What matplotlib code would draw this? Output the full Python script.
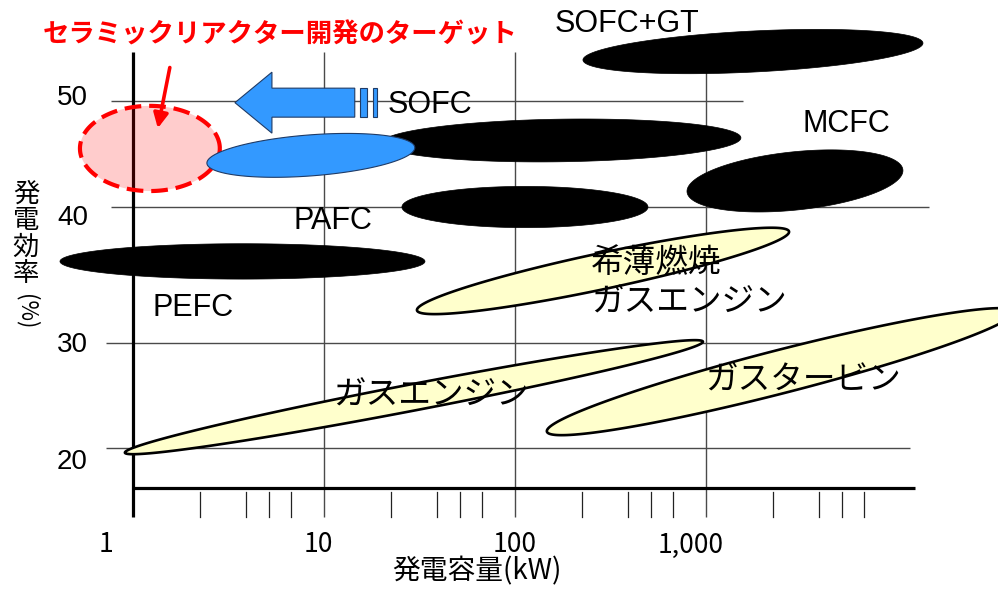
import numpy as np
import matplotlib
matplotlib.use("Agg")
import matplotlib.pyplot as plt

plt.rcParams['font.family'] = ['Liberation Sans', 'Noto Sans CJK JP', 'DejaVu Sans']

# ---------------- data ----------------
x_ticks = [1, 10, 100, 1000]
x_tick_labels = ['1', '10', '100', '1,000']
x_minor_in_decade = [2.25, 3.9, 5.15, 6.7]
y_ticks = [20, 30, 40, 50]
y_tick_labels = ['20', '30', '40', '50']

# uneven efficiency grid of the source diagram (position of each grid line, px)
grid_eff = [20, 30, 40, 50]
grid_pos = [0.0, 105.5, 241.5, 348.0]

# technology regions: capacity (kW) at both ends, efficiency (%) at both ends, spread (%)
region_names = ['PEFC', 'PAFC', 'SOFC', 'SOFC+GT', 'MCFC',
                'SOFC (small)', 'target', 'gas engine', 'lean gas engine', 'gas turbine']
kw_start = [0.415, 25.6, 20.0, 227, 796, 2.44, 0.528, 0.908, 30.7, 147]
kw_end = [33.8, 497, 1524, 13680, 10740, 29.9, 2.85, 964, 2722, 41000]
eff_start = [36.0, 40.0, 46.0, 53.8, 41.4, 44.1, 45.5, 19.6, 32.4, 21.6]
eff_end = [36.0, 40.0, 46.5, 55.4, 43.5, 45.6, 45.5, 30.1, 38.2, 32.3]
eff_spread = [2.6, 3.4, 4.0, 3.85, 5.4, 3.85, 8.0, 2.5, 2.65, 4.1]

label_text = ['SOFC+GT', 'SOFC', 'MCFC', 'PAFC', 'PEFC',
              'ガスエンジン', '希薄燃焼\nガスエンジン', 'ガスタービン']
label_kw = [386, 35.9, 5410, 11.1, 2.06, 36.3, 250, 3220]
label_eff = [57.2, 49.6, 47.8, 38.97, 32.57, 24.98, 34.4, 26.4]

title_text = 'セラミックリアクター開発のターゲット'
title_kw, title_eff = 5.89, 56.15
target_arrow_kw = [1.56, 1.35]
target_arrow_eff = [53.1, 47.4]

sofc_arrow_kw = [14.5, 3.42]     # body end -> tip
sofc_arrow_eff = 49.8

# ---------------- scale ----------------
knot_eff = [-50] + grid_eff + [120]
knot_pos = ([grid_pos[0] - 70 * (grid_pos[1] - grid_pos[0]) / 10] + grid_pos +
            [grid_pos[-1] + 70 * (grid_pos[-1] - grid_pos[-2]) / 10])


def fwd(v):
    return np.interp(np.asarray(v, float), knot_eff, knot_pos)


def inv(p):
    return np.interp(np.asarray(p, float), knot_pos, knot_eff)


W, H = 998, 589
fig = plt.figure(figsize=(W / 100, H / 100), dpi=100)
ax = fig.add_axes([0, 0, 1, 1])
ax.set_xscale('log')
ax.set_yscale('function', functions=(fwd, inv))
ax.set_xlim(0.2014, 33800)
ax.set_ylim(6.68, 59.44)
ax.axis('off')
T = ax.transData
Ti = T.inverted()

GRID_C = '#4a4a4a'

# horizontal grid lines
h_extent = {50: (0.767, 1563), 40: (0.767, 14700), 30: (0.722, 11700), 20: (0.722, 11700)}
for e in y_ticks:
    x0, x1 = h_extent[e]
    ax.plot([x0, x1], [e, e], color=GRID_C, lw=1.0, zorder=1, solid_capstyle='butt')
# vertical grid lines (decades)
for k in x_ticks[1:]:
    ax.plot([k, k], [54.55, 13.5], color=GRID_C, lw=1.0, zorder=1, solid_capstyle='butt')
# minor ticks
for dec in [1, 10, 100, 1000]:
    for m in x_minor_in_decade:
        ax.plot([dec * m, dec * m], [15.9, 13.5], color='#222222', lw=0.9, zorder=1)
# thick axes
ax.plot([1, 1], [54.55, 13.5], color='black', lw=2.3, zorder=1.5, solid_capstyle='butt')
ax.plot([1, 12400], [16.26, 16.26], color='black', lw=2.3, zorder=1.5, solid_capstyle='butt')


def region(i, n=400, **kw):
    p0, p1 = T.transform([(kw_start[i], eff_start[i]), (kw_end[i], eff_end[i])])
    c = (p0 + p1) / 2
    d = p1 - p0
    a = np.hypot(*d) / 2
    ang = np.arctan2(d[1], d[0])
    ec = (eff_start[i] + eff_end[i]) / 2
    kc = np.sqrt(kw_start[i] * kw_end[i])
    q = T.transform([(kc, ec - eff_spread[i] / 2), (kc, ec + eff_spread[i] / 2)])
    b = abs(q[1][1] - q[0][1]) / 2
    t = np.linspace(0, 2 * np.pi, n)
    u = np.array([np.cos(ang), np.sin(ang)])
    v = np.array([-np.sin(ang), np.cos(ang)])
    pts = c + np.outer(a * np.cos(t), u) + np.outer(b * np.sin(t), v)
    dat = Ti.transform(pts)
    return ax.fill(dat[:, 0], dat[:, 1], **kw)


black = dict(facecolor='black', edgecolor='black', lw=0.5, zorder=2)
yellow = dict(facecolor='#FFFFCC', edgecolor='black', lw=1.9, zorder=2)
for i in [0, 1, 2, 3, 4]:
    region(i, **black)
region(6, facecolor=(1, 0, 0, 0.2), edgecolor='#FF0000', lw=3.0,
       linestyle=(0, (4.0, 1.9)), zorder=3)
region(5, facecolor='#3399FF', edgecolor='#1f3b66', lw=0.8, zorder=3.5)
for i in [7, 8, 9]:
    region(i, **yellow)

# SOFC development arrow (blue, pointing toward small capacity)
e_px, _ = T.transform((sofc_arrow_kw[0], sofc_arrow_eff))
t_px, ty = T.transform((sofc_arrow_kw[1], sofc_arrow_eff))
bh, hh, hl = 14.5, 30.5, 37.0
arrow = np.array([(t_px, ty), (t_px + hl, ty + hh), (t_px + hl, ty + bh), (e_px, ty + bh),
                  (e_px, ty - bh), (t_px + hl, ty - bh), (t_px + hl, ty - hh), (t_px, ty)])
ad = Ti.transform(arrow)
ax.fill(ad[:, 0], ad[:, 1], facecolor='#3399FF', edgecolor='#1f3b66', lw=0.8, zorder=3)
for b0, b1 in [(5, 12), (18, 22)]:
    r = np.array([(e_px + b0, ty - bh), (e_px + b1, ty - bh), (e_px + b1, ty + bh),
                  (e_px + b0, ty + bh), (e_px + b0, ty - bh)])
    rd = Ti.transform(r)
    ax.fill(rd[:, 0], rd[:, 1], facecolor='#3399FF', edgecolor='#1f3b66', lw=0.8, zorder=3)

# labels
for txt, k, e in zip(label_text, label_kw, label_eff):
    ja = any(ord(ch) > 0x3000 for ch in txt)
    ha = 'left' if '\n' in txt else 'center'
    ax.text(k, e, txt, fontsize=23.5 if ja else 22, ha=ha, va='center',
            linespacing=1.3, zorder=5,
            family=['Noto Sans CJK JP'] if ja else ['Liberation Sans'])

ax.text(title_kw, title_eff, title_text, color='#FF0000', fontsize=19, fontweight='bold',
        ha='center', va='center', family=['Noto Sans CJK JP'], zorder=5)
ax.annotate('', xy=(target_arrow_kw[1], target_arrow_eff[1]),
            xytext=(target_arrow_kw[0], target_arrow_eff[0]),
            arrowprops=dict(arrowstyle='-|>', color='#FF0000', lw=2.6,
                            mutation_scale=22, shrinkA=0, shrinkB=0), zorder=5)

# tick labels
y_lab_off = [-14, -2, -11, 3]
for e, lab, off in zip(y_ticks, y_tick_labels, y_lab_off):
    ax.annotate(lab, xy=(1, e), xytext=(-45, off), textcoords='offset pixels',
                ha='right', va='center', fontsize=20, family=['Liberation Sans'])
x_lab_off = [-27, -6, 0, -15]
for k, lab, off in zip(x_ticks, x_tick_labels, x_lab_off):
    ax.annotate(lab, xy=(k, 16.26), xytext=(off, -57), textcoords='offset pixels',
                ha='center', va='center', fontsize=19, family=['Noto Sans CJK JP'])

fig.text(0.478, 0.03, '発電容量(kW)', ha='center', va='center', fontsize=20,
         family=['Noto Sans CJK JP'])
fig.text(0.026, 0.603, '発\n電\n効\n率', ha='center', va='center', fontsize=19,
         linespacing=0.98, family=['Noto Sans CJK JP'])
fig.text(0.026, 0.470, '(%)', ha='center', va='center', fontsize=16, rotation=270,
         family=['Noto Sans CJK JP'])

fig.savefig('out.png', dpi=100)
